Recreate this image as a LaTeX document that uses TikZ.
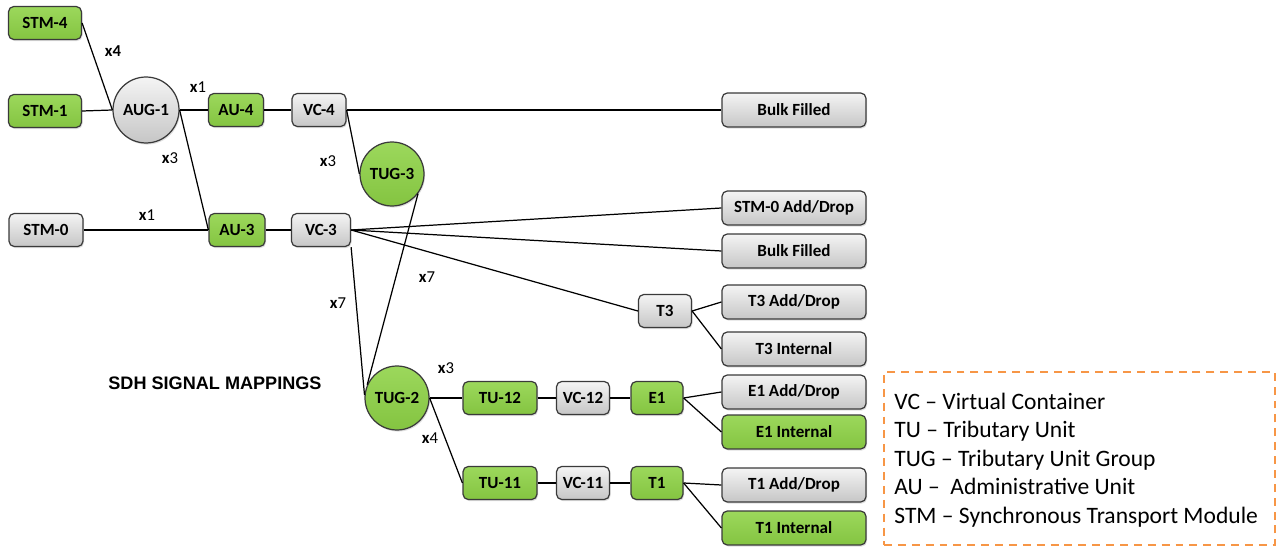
\documentclass[tikz,border=0pt]{standalone}
\usepackage{fontspec}
\setmainfont{Carlito}
\newfontfamily\arialfont{Liberation Sans}
\usetikzlibrary{shadows}
\definecolor{bord}{HTML}{3A3A3A}
\definecolor{gtop}{HTML}{F4F4F4}
\definecolor{gbot}{HTML}{C6C6C6}
\definecolor{grtop}{HTML}{9CD85C}
\definecolor{grbot}{HTML}{84C441}
\definecolor{legor}{HTML}{F79646}
\begin{document}
\begin{tikzpicture}[x=0.02cm,y=-0.02cm,
  base/.style={draw=bord, line width=0.7pt, inner sep=0pt,
    font=\fontsize{9.7}{11}\selectfont\bfseries,
    drop shadow={shadow xshift=0.6pt, shadow yshift=-0.9pt, opacity=0.25}},
  box/.style={base, rounded corners=3pt, minimum height=0.66cm},
  gbox/.style={box, top color=gtop, bottom color=gbot},
  grbox/.style={box, top color=grtop, bottom color=grbot},
  wide/.style={minimum width=2.88cm, minimum height=0.68cm},
  gcirc/.style={base, circle, minimum size=1.32cm, top color=gtop, bottom color=gbot},
  grcirc/.style={base, circle, minimum size=1.28cm, top color=grtop, bottom color=grbot},
  conn/.style={line width=0.7pt, black},
  lbl/.style={inner sep=0pt, font=\fontsize{9.5}{11}\selectfont},
  legbox/.style={draw=legor, line width=1.1pt, dash pattern=on 4.5pt off 3.4pt},
]
\useasboundingbox (0,0) rectangle (1278,547);

% connectors first (behind nodes)
\begin{scope}[on background layer/.style={}]
\end{scope}

% nodes
\node[grbox, minimum width=1.46cm] (STM4) at (45,23) {STM-4};
\node[grbox, minimum width=1.46cm] (STM1) at (45,111) {STM-1};
\node[gbox, minimum width=1.48cm] (STM0) at (46,230) {STM-0};
\node[gcirc] (AUG1) at (146,110) {AUG-1};
\node[grbox, minimum width=1.1cm] (AU4) at (236,110) {AU-4};
\node[grbox, minimum width=1.12cm] (AU3) at (237,230) {AU-3};
\node[gbox, minimum width=1.08cm] (VC4) at (319,110) {VC-4};
\node[gbox, minimum width=1.18cm] (VC3) at (321,230) {VC-3};
\node[grcirc] (TUG3) at (392,174) {TUG-3};
\node[grcirc] (TUG2) at (397,398) {TUG-2};
\node[gbox, wide] (BF1) at (794,110) {Bulk Filled};
\node[gbox, wide] (S0AD) at (794,208) {STM-0 Add/Drop};
\node[gbox, wide] (BF2) at (794,251) {Bulk Filled};
\node[gbox, minimum width=1.06cm] (T3) at (665,311) {T3};
\node[gbox, wide] (T3AD) at (794,302) {T3 Add/Drop};
\node[gbox, wide] (T3IN) at (794,349) {T3 Internal};
\node[grbox, minimum width=1.48cm] (TU12) at (500,398) {TU-12};
\node[gbox, minimum width=1.06cm] (VC12) at (583,398) {VC-12};
\node[grbox, minimum width=1.04cm] (E1) at (657,398) {E1};
\node[gbox, wide] (E1AD) at (794,392) {E1 Add/Drop};
\node[grbox, wide] (E1IN) at (794,432) {E1 Internal};
\node[grbox, minimum width=1.48cm] (TU11) at (500,483) {TU-11};
\node[gbox, minimum width=1.06cm] (VC11) at (583,483) {VC-11};
\node[grbox, minimum width=1.04cm] (T1) at (657,483) {T1};
\node[gbox, wide] (T1AD) at (794,485) {T1 Add/Drop};
\node[grbox, wide] (T1IN) at (794,528) {T1 Internal};

% connectors
\draw[conn] (STM4.east) -- (AUG1.west);
\draw[conn] (STM1.east) -- (AUG1.west);
\draw[conn] (AUG1.east) -- (AU4.west);
\draw[conn] (AUG1.east) -- (AU3.west);
\draw[conn] (AU4.east) -- (VC4.west);
\draw[conn] (VC4.east) -- (BF1.west);
\draw[conn] (VC4.east) -- (TUG3.west);
\draw[conn] (STM0.east) -- (AU3.west);
\draw[conn] (AU3.east) -- (VC3.west);
\draw[conn] (VC3.east) -- (S0AD.west);
\draw[conn] (VC3.east) -- (BF2.west);
\draw[conn] (VC3.east) -- (T3.west);
\draw[conn] (VC3.south east) -- (TUG2.175);
\draw[conn] (TUG3.-37) -- (TUG2.156);
\draw[conn] (T3.east) -- (T3AD.west);
\draw[conn] (T3.east) -- (T3IN.west);
\draw[conn] (TUG2.east) -- (TU12.west);
\draw[conn] (TUG2.east) -- (TU11.west);
\draw[conn] (TU12.east) -- (VC12.west);
\draw[conn] (VC12.east) -- (E1.west);
\draw[conn] (E1.east) -- (E1AD.west);
\draw[conn] (E1.east) -- (E1IN.west);
\draw[conn] (TU11.east) -- (VC11.west);
\draw[conn] (VC11.east) -- (T1.west);
\draw[conn] (T1.east) -- (T1AD.west);
\draw[conn] (T1.east) -- (T1IN.west);

% multiplicity labels
\node[lbl] (m1) at (113,51) {\textbf{x4}};
\node[lbl] (m2) at (198,87) {\textbf{x}1};
\node[lbl] (m3) at (170,158) {\textbf{x}3};
\node[lbl] (m4) at (147,215) {\textbf{x}1};
\node[lbl] (m5) at (328,161) {\textbf{x}3};
\node[lbl] (m6) at (427,277) {\textbf{x}7};
\node[lbl] (m7) at (338,303) {\textbf{x}7};
\node[lbl] (m8) at (446,368) {\textbf{x}3};
\node[lbl] (m9) at (430,438) {\textbf{x}4};

% title
\node[inner sep=0pt, font=\arialfont\bfseries\fontsize{10.3}{12}\selectfont] (title) at (215,383) {SDH SIGNAL MAPPINGS};

% legend
\node[legbox, minimum width=7.82cm, minimum height=3.46cm, inner sep=0pt] (legend) at (1079.5,458.5) {};
\node[anchor=west, align=left, inner sep=0pt, font=\fontsize{13.4}{16.3}\selectfont] (legtext) at (894,460)
{VC – Virtual Container\\
TU – Tributary Unit\\
TUG – Tributary Unit Group\\
AU –\ \ Administrative Unit\\
STM – Synchronous Transport Module};
\end{tikzpicture}
\end{document}
